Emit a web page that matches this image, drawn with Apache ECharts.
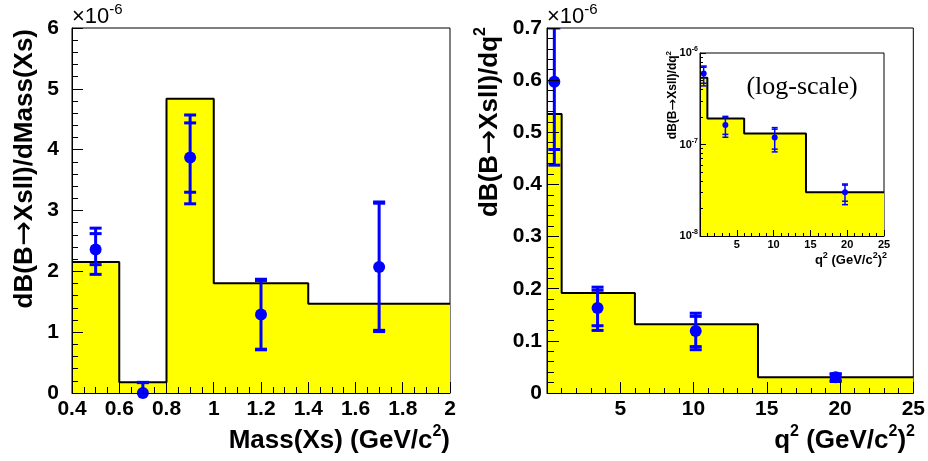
<!DOCTYPE html>
<html>
<head>
<meta charset="utf-8">
<script src="https://cdn.jsdelivr.net/npm/echarts@6/dist/echarts.min.js"></script>
<style>
  html, body { margin: 0; padding: 0; background: #fff; }
  #chart { width: 928px; height: 461px; }
</style>
</head>
<body>
<div id="chart"></div>
<script>
// all values in units of 1e-6

// left panel: dB/dMass(Xs)
var massEdges = [0.4, 0.6, 0.8, 1.0, 1.4, 2.0];
var massHist = [2.155, 0.175, 4.835, 1.805, 1.466];
var massX = [0.5, 0.7, 0.9, 1.2, 1.7];
var massY = [2.36, 0.0, 3.87, 1.29, 2.07];
var massStatLo = [2.11, 0.0, 3.30, 0.72, 1.03];
var massStatHi = [2.62, 0.17, 4.44, 1.85, 3.12];
var massTotLo = [1.95, 0.0, 3.11, 0.71, 1.01];
var massTotHi = [2.71, 0.175, 4.57, 1.87, 3.14];

// right panel: dB/dq2
var q2Edges = [0, 1, 6, 14.4, 25];
var q2Hist = [0.535, 0.192, 0.132, 0.030];
var q2X = [0.5, 3.45, 10.15, 19.7];
var q2Y = [0.597, 0.163, 0.119, 0.030];
var q2StatLo = [0.467, 0.129, 0.089, 0.024];
var q2StatHi = [0.70, 0.197, 0.147, 0.036];
var q2TotLo = [0.437, 0.120, 0.083, 0.022];
var q2TotHi = [0.72, 0.203, 0.153, 0.037];

var FONT = '"Liberation Sans", Arial, sans-serif';
var BLUE = '#0000ff';

function stepPoints(edges, vals) {
  var pts = [];
  for (var i = 0; i < vals.length; i++) {
    pts.push([edges[i], vals[i]]);
    pts.push([edges[i + 1], vals[i]]);
  }
  return pts;
}

function histSeries(idx, edges, vals) {
  return {
    type: 'line',
    xAxisIndex: idx,
    yAxisIndex: idx,
    data: stepPoints(edges, vals),
    symbol: 'none',
    clip: true,
    lineStyle: { color: '#000', width: 2 },
    areaStyle: { color: '#ffff00', opacity: 1, origin: 'start' },
    z: 2
  };
}

function errSeries(idx, xs, sLo, sHi, tLo, tHi, capW, lw) {
  return {
    type: 'custom',
    xAxisIndex: idx,
    yAxisIndex: idx,
    clip: true,
    z: 3,
    data: xs.map(function (x, i) { return [x, tLo[i], tHi[i], sLo[i], sHi[i]]; }),
    encode: { x: 0, y: [1, 2] },
    renderItem: function (params, api) {
      var x = api.value(0);
      var style = { stroke: BLUE, lineWidth: lw };
      var lo = api.coord([x, api.value(1)]);
      var hi = api.coord([x, api.value(2)]);
      var children = [{ type: 'line', shape: { x1: lo[0], y1: lo[1], x2: hi[0], y2: hi[1] }, style: style }];
      for (var k = 1; k <= 4; k++) {
        if (api.value(k) <= 0) continue;
        var p = api.coord([x, api.value(k)]);
        children.push({ type: 'line', shape: { x1: p[0] - capW, y1: p[1], x2: p[0] + capW, y2: p[1] }, style: style });
      }
      return { type: 'group', children: children };
    }
  };
}

function pointSeries(idx, xs, ys, size) {
  return {
    type: 'scatter',
    xAxisIndex: idx,
    yAxisIndex: idx,
    data: xs.map(function (x, i) { return [x, ys[i]]; }),
    symbolSize: size,
    itemStyle: { color: BLUE, opacity: 1 },
    z: 4
  };
}

function valAxis(idx, pos, min, max, interval, minor, len, minorLen, fs, margin, hideZero) {
  return {
    type: 'value',
    gridIndex: idx,
    position: pos,
    z: 10,
    min: min, max: max, interval: interval,
    axisLine: { show: true, onZero: false, lineStyle: { color: '#000', width: 1 } },
    axisTick: { show: true, inside: true, length: len, lineStyle: { color: '#000', width: 1 } },
    minorTick: { show: true, splitNumber: minor, length: minorLen, lineStyle: { color: '#000', width: 1 } },
    splitLine: { show: false },
    axisLabel: {
      color: '#000', fontWeight: 'bold', fontSize: fs, fontFamily: FONT, margin: margin,
      showMinLabel: true, showMaxLabel: true,
      formatter: function (v) { return (hideZero && v === 0) ? '' : String(+v.toFixed(2)); }
    }
  };
}

function textEl(x, y, rot, align, parts, big, small, weight) {
  return {
    type: 'text', x: x, y: y, rotation: rot, z: 10,
    style: {
      text: parts,
      fill: '#000',
      align: align, textAlign: align,
      verticalAlign: 'middle', textVerticalAlign: 'middle',
      rich: {
        m: { fontSize: big, fontFamily: FONT, fontWeight: weight, fill: '#000', lineHeight: Math.round(big * 1.3) },
        s: { fontSize: small, fontFamily: FONT, fontWeight: weight, fill: '#000', verticalAlign: 'top', lineHeight: small },
        a: { fontSize: Math.round(big * 1.15), fontFamily: '"DejaVu Sans", sans-serif', fontWeight: 'normal', fill: '#000', lineHeight: Math.round(big * 1.3) }
      }
    }
  };
}

var chart = echarts.init(document.getElementById('chart'), null, { renderer: 'canvas' });

var option = {
  animation: false,
  backgroundColor: '#fff',
  grid: [
    { left: 72, top: 28, width: 378, height: 365, show: true, borderColor: '#000', borderWidth: 1, backgroundColor: '#fff' },
    { left: 547, top: 28, width: 367, height: 365, show: true, borderColor: '#000', borderWidth: 1, backgroundColor: '#fff' },
    { left: 700, top: 53, width: 184, height: 183, show: true, borderColor: '#000', borderWidth: 1, backgroundColor: '#fff' }
  ],
  xAxis: [
    valAxis(0, 'bottom', 0.4, 2, 0.2, 4, 11, 6, 21, 6, false),
    valAxis(1, 'bottom', 0, 25, 5, 5, 11, 5, 21, 6, true),
    valAxis(2, 'bottom', 0, 25, 5, 5, 6, 3, 11, 3, true)
  ],
  yAxis: [
    valAxis(0, 'left', 0, 6, 1, 5, 11, 6, 21, 13, false),
    valAxis(1, 'left', 0, 0.7, 0.1, 5, 12, 7, 21, 5, false),
    {
      type: 'log',
      gridIndex: 2,
      z: 10,
      logBase: 10,
      min: 0.01,
      max: 1,
      axisLine: { show: true, onZero: false, lineStyle: { color: '#000', width: 1 } },
      axisTick: { show: true, inside: true, length: 6, lineStyle: { color: '#000', width: 1 } },
      minorTick: { show: true, splitNumber: 9, length: 3, lineStyle: { color: '#000', width: 1 } },
      splitLine: { show: false },
      axisLabel: {
        margin: 2,
        formatter: function (v) {
          var e = Math.round(Math.log10(v)) - 6;
          return '{b|10}{s|' + e + '}';
        },
        rich: {
          b: { fontSize: 11, fontWeight: 'bold', fontFamily: FONT, color: '#000', lineHeight: 14 },
          s: { fontSize: 7, fontWeight: 'bold', fontFamily: FONT, color: '#000', verticalAlign: 'top', lineHeight: 7 }
        }
      }
    }
  ],
  series: [
    histSeries(0, massEdges, massHist),
    errSeries(0, massX, massStatLo, massStatHi, massTotLo, massTotHi, 6, 3),
    pointSeries(0, massX, massY, 12),
    histSeries(1, q2Edges, q2Hist),
    errSeries(1, q2X, q2StatLo, q2StatHi, q2TotLo, q2TotHi, 6, 3),
    pointSeries(1, q2X, q2Y, 12),
    histSeries(2, q2Edges, q2Hist),
    errSeries(2, q2X, q2StatLo, q2StatHi, q2TotLo, q2TotHi, 3, 1.5),
    pointSeries(2, q2X, q2Y, 6)
  ],
  graphic: [
    textEl(72, 17, 0, 'left', '{m|×10}{s|-6}', 22, 15, 'normal'),
    textEl(547, 17, 0, 'left', '{m|×10}{s|-6}', 22, 15, 'normal'),
    textEl(25, 29, Math.PI / 2, 'right', '{m|dB(B}{a|→}{m|Xsll)/dMass(Xs)}', 26, 17, 'bold'),
    textEl(450, 441, 0, 'right', '{m|Mass(Xs) (GeV/c}{s|2}{m|)}', 26, 16, 'bold'),
    textEl(490, 27, Math.PI / 2, 'right', '{m|dB(B}{a|→}{m|Xsll)/dq}{s|2}', 26, 16, 'bold'),
    textEl(915, 441, 0, 'right', '{m|q}{s|2}{m| (GeV/c}{s|2}{m|)}{s|2}', 26, 16, 'bold'),
    textEl(673, 51, Math.PI / 2, 'right', '{m|dB(B}{a|→}{m|Xsll)/dq}{s|2}', 12, 8, 'bold'),
    textEl(887, 260, 0, 'right', '{m|q}{s|2}{m| (GeV/c}{s|2}{m|)}{s|2}', 13, 9, 'bold'),
    {
      type: 'text', x: 802, y: 87, z: 10,
      style: {
        text: '(log-scale)', font: '26px "Liberation Serif", "Times New Roman", serif', fill: '#000',
        align: 'center', textAlign: 'center', verticalAlign: 'middle', textVerticalAlign: 'middle'
      }
    }
  ]
};

chart.setOption(option);
</script>
</body>
</html>
